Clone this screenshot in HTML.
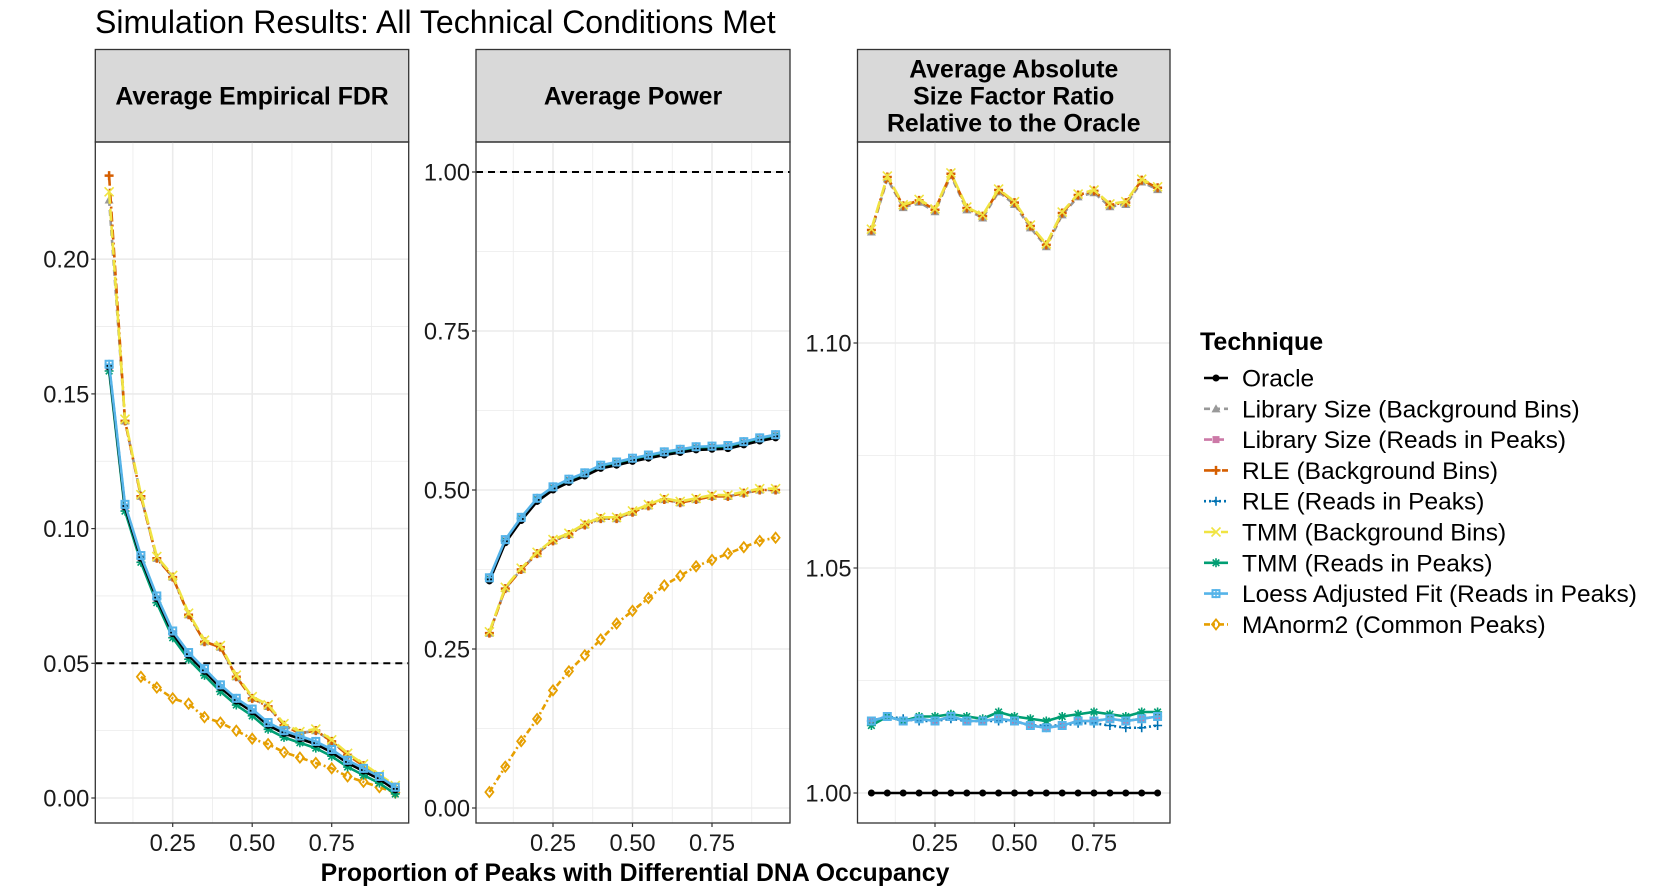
<!DOCTYPE html>
<html><head><meta charset="utf-8"><style>
html,body{margin:0;padding:0;background:#fff}
svg{display:block;font-family:"Liberation Sans",Arial,sans-serif}
</style></head><body>
<svg id="s" width="1661" height="894" viewBox="0 0 1661 894" xmlns="http://www.w3.org/2000/svg"></svg>
<script>
(function(){
const S=document.getElementById('s');let h='';
const C={or:'#000000',lbg:'#999999',lrp:'#CC79A7',rbg:'#D55E00',rrp:'#0072B2',tbg:'#F0E442',trp:'#009E73',lo:'#56B4E9',ma:'#E69F00'};
const xs=[];for(let i=1;i<=19;i++)xs.push(i*0.05);
const P=[
 {l:95.3,r:408.7,base:93.2,ym:v=>798-v*2694,yt:[[0,'0.00'],[0.05,'0.05'],[0.1,'0.10'],[0.15,'0.15'],[0.2,'0.20']],hl:0.05,title:['Average Empirical FDR']},
 {l:476,r:790,base:473.5,ym:v=>808-v*636,yt:[[0,'0.00'],[0.25,'0.25'],[0.5,'0.50'],[0.75,'0.75'],[1,'1.00']],hl:1,title:['Average Power']},
 {l:857.5,r:1170,base:855.5,ym:v=>793-(v-1)*4500,yt:[[1,'1.00'],[1.05,'1.05'],[1.1,'1.10']],title:['Average Absolute','Size Factor Ratio','Relative to the Oracle']}
];
const T0=142,B0=823;
h+='<text x="95" y="33" font-size="32" fill="#000">Simulation Results: All Technical Conditions Met</text>';
P.forEach(p=>{
 h+=`<rect x="${p.l}" y="49.5" width="${p.r-p.l}" height="${T0-49.5}" fill="#d9d9d9" stroke="#333" stroke-width="1.3"/>`;
 const n=p.title.length, cy=(49.5+T0)/2;
 p.title.forEach((t,i)=>{h+=`<text x="${(p.l+p.r)/2}" y="${cy+(i-(n-1)/2)*27+8.5}" font-size="24.8" font-weight="bold" text-anchor="middle">${t}</text>`});
 for(let v=0.125;v<1;v+=0.25){const x=p.base+v*318;h+=`<line x1="${x}" x2="${x}" y1="${T0}" y2="${B0}" stroke="#ebebeb" stroke-width="0.8"/>`}
 for(let i=0;i<p.yt.length-1;i++){const y=p.ym((p.yt[i][0]+p.yt[i+1][0])/2);h+=`<line x1="${p.l}" x2="${p.r}" y1="${y}" y2="${y}" stroke="#ebebeb" stroke-width="0.8"/>`}
 [0.25,0.5,0.75].forEach(v=>{const x=p.base+v*318;h+=`<line x1="${x}" x2="${x}" y1="${T0}" y2="${B0}" stroke="#ebebeb" stroke-width="1.6"/><line x1="${x}" x2="${x}" y1="${B0}" y2="${B0+4}" stroke="#333" stroke-width="1.2"/><text x="${x}" y="${B0+28}" font-size="23.7" text-anchor="middle" fill="#1a1a1a">${v.toFixed(2)}</text>`});
 p.yt.forEach(([v,t])=>{const y=p.ym(v);h+=`<line x1="${p.l}" x2="${p.r}" y1="${y}" y2="${y}" stroke="#ebebeb" stroke-width="1.6"/><line x1="${p.l-4}" x2="${p.l}" y1="${y}" y2="${y}" stroke="#333" stroke-width="1.2"/><text x="${p.l-6}" y="${y+8.5}" font-size="23.7" text-anchor="end" fill="#1a1a1a">${t}</text>`});
 if(p.hl!==undefined){const y=p.ym(p.hl);h+=`<line x1="${p.l}" x2="${p.r}" y1="${y}" y2="${y}" stroke="#000" stroke-width="2" stroke-dasharray="7,5"/>`}
});
function mk(x,y,c,k){
 const s=4.5;
 switch(k){
 case 'or':return `<circle cx="${x}" cy="${y}" r="3.5" fill="${c}"/>`;
 case 'lbg':return `<path d="M${x} ${y-s}L${x+s} ${y+s*0.8}L${x-s} ${y+s*0.8}Z" fill="${c}"/>`;
 case 'lrp':return `<rect x="${x-3.5}" y="${y-3.5}" width="7" height="7" fill="${c}"/>`;
 case 'rbg':return `<path d="M${x-s} ${y}L${x+s} ${y}M${x} ${y-s}L${x} ${y+s}" stroke="${c}" stroke-width="2.5"/>`;
 case 'rrp':return `<path d="M${x-s} ${y}L${x+s} ${y}M${x} ${y-s}L${x} ${y+s}" stroke="${c}" stroke-width="1.6"/>`;
 case 'tbg':return `<path d="M${x-s} ${y-s}L${x+s} ${y+s}M${x+s} ${y-s}L${x-s} ${y+s}" stroke="${c}" stroke-width="1.6"/>`;
 case 'trp':return `<path d="M${x-s} ${y}L${x+s} ${y}M${x} ${y-s}L${x} ${y+s}M${x-3.3} ${y-3.3}L${x+3.3} ${y+3.3}M${x+3.3} ${y-3.3}L${x-3.3} ${y+3.3}" stroke="${c}" stroke-width="1.6"/>`;
 case 'lo':return `<rect x="${x-3.5}" y="${y-3.5}" width="7" height="7" fill="none" stroke="${c}" stroke-width="2"/><path d="M${x-s} ${y}L${x+s} ${y}M${x} ${y-s}L${x} ${y+s}" stroke="${c}" stroke-width="1.5"/>`;
 case 'ma':return `<path d="M${x} ${y-5}L${x+4} ${y}L${x} ${y+5}L${x-4} ${y}Z" fill="none" stroke="${c}" stroke-width="1.8"/>`;
 }}
const DA={or:'',lbg:'6,4',lrp:'8,4',rbg:'10,3,2,3',rrp:'2,3',tbg:'12,5',trp:'',lo:'',ma:'6,3,2,3'};
function series(p,k,vals,x0){
 let pts=vals.map((v,i)=>[p.base+(x0+i*0.05)*318,p.ym(v)]);
 h+=`<polyline points="${pts.map(a=>a.join(',')).join(' ')}" fill="none" stroke="${C[k]}" stroke-width="2.6" ${DA[k]?`stroke-dasharray="${DA[k]}"`:''}/>`;
 pts.forEach(a=>h+=mk(a[0],a[1],C[k],k));
}
const fA=[0.16,0.108,0.089,0.074,0.061,0.053,0.047,0.041,0.036,0.032,0.027,0.024,0.022,0.020,0.017,0.013,0.010,0.007,0.003];
const fB=[0.231,0.14,0.112,0.089,0.082,0.068,0.058,0.056,0.045,0.037,0.034,0.027,0.024,0.025,0.021,0.016,0.012,0.008,0.004];
const fM=[0.045,0.041,0.037,0.035,0.030,0.028,0.025,0.022,0.020,0.017,0.015,0.013,0.011,0.008,0.006,0.004,0.002];
const pA=[0.36,0.42,0.455,0.485,0.503,0.515,0.525,0.537,0.542,0.548,0.553,0.558,0.562,0.566,0.567,0.568,0.574,0.58,0.585];
const pB=[0.275,0.345,0.375,0.40,0.42,0.43,0.445,0.455,0.455,0.465,0.475,0.485,0.48,0.485,0.49,0.49,0.495,0.50,0.50];
const pM=[0.025,0.065,0.105,0.14,0.185,0.215,0.24,0.265,0.29,0.31,0.33,0.35,0.365,0.38,0.39,0.40,0.41,0.42,0.425];
const sB=[1.1251,1.1369,1.1305,1.1317,1.1296,1.1376,1.130,1.1282,1.134,1.1312,1.126,1.1218,1.1289,1.1329,1.1338,1.1307,1.1312,1.1362,1.1345];
const sT=[1.015,1.017,1.016,1.017,1.017,1.0175,1.017,1.0165,1.018,1.017,1.0165,1.016,1.017,1.0175,1.018,1.0175,1.017,1.018,1.018];
const sL=[1.016,1.017,1.016,1.0165,1.016,1.017,1.016,1.016,1.0165,1.016,1.015,1.0145,1.015,1.016,1.016,1.0165,1.016,1.0165,1.017];
const sR=[1.016,1.017,1.0165,1.016,1.016,1.0165,1.016,1.016,1.016,1.016,1.015,1.015,1.015,1.0155,1.0155,1.015,1.0145,1.0145,1.015];
series(P[0],'ma',fM,0.15);
series(P[0],'lbg',[0.222].concat(fB.slice(1)),0.05);series(P[0],'rbg',fB,0.05);series(P[0],'tbg',fB.map((v,i)=>i?v+0.0006:0.225),0.05);
series(P[0],'lrp',fA,0.05);series(P[0],'rrp',fA,0.05);series(P[0],'trp',fA.map(v=>v-0.0015),0.05);series(P[0],'or',fA,0.05);series(P[0],'lo',fA.map(v=>v+0.001),0.05);
series(P[1],'ma',pM,0.05);
series(P[1],'lbg',pB,0.05);series(P[1],'rbg',pB,0.05);series(P[1],'tbg',pB.map(v=>v+0.002),0.05);
series(P[1],'lrp',pA,0.05);series(P[1],'rrp',pA,0.05);series(P[1],'trp',pA,0.05);series(P[1],'or',pA.map(v=>v-0.003),0.05);series(P[1],'lo',pA.map(v=>v+0.002),0.05);
series(P[2],'lbg',sB.map(v=>v-0.0004),0.05);series(P[2],'rbg',sB,0.05);series(P[2],'tbg',sB.map(v=>v+0.0002),0.05);
series(P[2],'lrp',sL,0.05);series(P[2],'rrp',sR,0.05);series(P[2],'trp',sT,0.05);series(P[2],'lo',sL,0.05);
series(P[2],'or',xs.map(()=>1),0.05);
P.forEach(p=>{h+=`<rect x="${p.l}" y="${T0}" width="${p.r-p.l}" height="${B0-T0}" fill="none" stroke="#333" stroke-width="1.3"/>`});
h+=`<text x="635" y="881" font-size="24.8" font-weight="bold" text-anchor="middle">Proportion of Peaks with Differential DNA Occupancy</text>`;
h+=`<text x="1200" y="350" font-size="25" font-weight="bold">Technique</text>`;
const L=[['or','Oracle'],['lbg','Library Size (Background Bins)'],['lrp','Library Size (Reads in Peaks)'],['rbg','RLE (Background Bins)'],['rrp','RLE (Reads in Peaks)'],['tbg','TMM (Background Bins)'],['trp','TMM (Reads in Peaks)'],['lo','Loess Adjusted Fit (Reads in Peaks)'],['ma','MAnorm2 (Common Peaks)']];
L.forEach(([k,t],i)=>{const y=378+i*30.8;
 h+=`<line x1="1204" x2="1228" y1="${y}" y2="${y}" stroke="${C[k]}" stroke-width="2.6" ${DA[k]?`stroke-dasharray="${DA[k]}"`:''}/>`+mk(1216,y,C[k],k);
 h+=`<text x="1242" y="${y+8.5}" font-size="24.5" fill="#000">${t}</text>`;});
S.innerHTML=h;
})();
</script>
</body></html>
